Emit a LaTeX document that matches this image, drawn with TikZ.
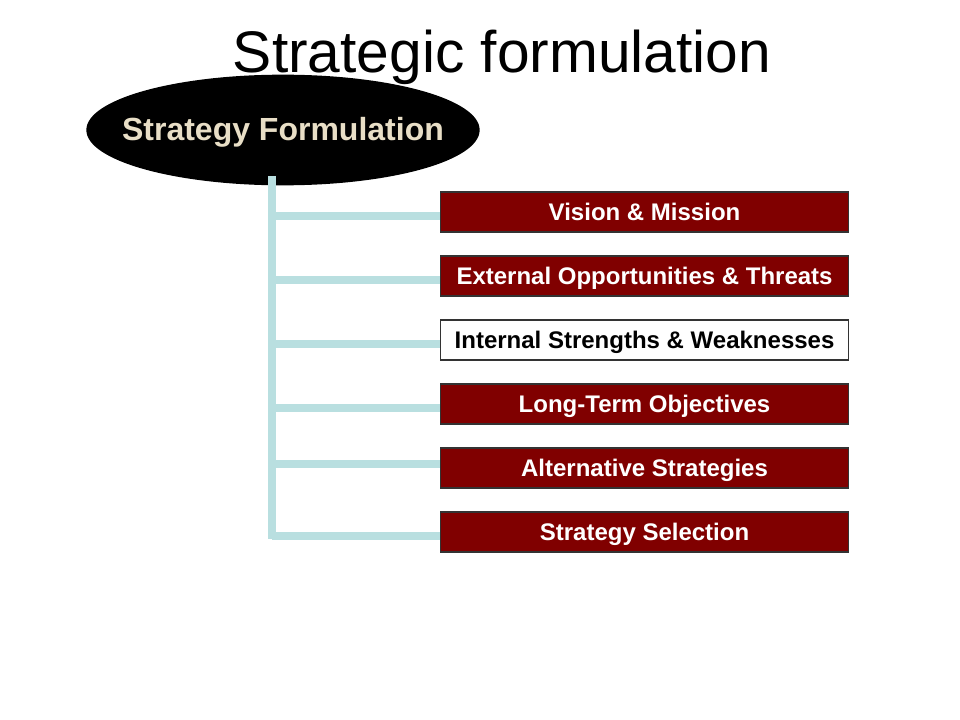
\documentclass[tikz,border=0pt]{standalone}
\usepackage{fontspec}
\setmainfont{Liberation Sans}
\usetikzlibrary{shapes.geometric}
\definecolor{boxred}{HTML}{800000}
\definecolor{trunkblue}{HTML}{B9DFE0}
\definecolor{beige}{HTML}{E8DEC6}
\begin{document}
\begin{tikzpicture}[x=0.75pt,y=-0.75pt,
  redbox/.style={draw=black!80,line width=0.8pt,fill=boxred,text=white,font=\bfseries\fontsize{18}{20}\selectfont,minimum width=306pt,minimum height=30pt,inner sep=0pt,anchor=west,text depth=0pt,text height=12.9pt},
  whitebox/.style={redbox,fill=white,text=black},
  branch/.style={draw=trunkblue,line width=5.5pt}]
\useasboundingbox (0,0) rectangle (960,720);
\node (title) at (502,57) {\fontsize{44}{50}\selectfont Strategic formulation};
\node[ellipse,fill=black,minimum width=295pt,minimum height=83pt,inner sep=0pt] (root) at (283,130) {};
\node[text=beige,font=\bfseries\fontsize{24}{28}\selectfont] (roottext) at ([yshift=-2pt]root.center) {Strategy Formulation};
\node[redbox] (b1) at (440,212) {Vision \& Mission};
\node[redbox] (b2) at (440,276) {External Opportunities \& Threats};
\node[whitebox] (b3) at (440,340) {Internal Strengths \& Weaknesses};
\node[redbox] (b4) at (440,404) {Long-Term Objectives};
\node[redbox] (b5) at (440,468) {Alternative Strategies};
\node[redbox] (b6) at (440,532) {Strategy Selection};
\coordinate (t0) at (272,176);
\coordinate (t1) at (272,216);
\coordinate (t2) at (272,280);
\coordinate (t3) at (272,344);
\coordinate (t4) at (272,408);
\coordinate (t5) at (272,464);
\coordinate (t6) at (272,536);
\draw[branch] (t1) -- (b1.west |- t1);
\draw[branch] (t2) -- (b2.west |- t2);
\draw[branch] (t3) -- (b3.west |- t3);
\draw[branch] (t4) -- (b4.west |- t4);
\draw[branch] (t5) -- (b5.west |- t5);
\draw[branch] (t6) -- (b6.west |- t6);
\draw[branch] (t0) -- ([yshift=-2.6pt]t6);
\end{tikzpicture}
\end{document}
